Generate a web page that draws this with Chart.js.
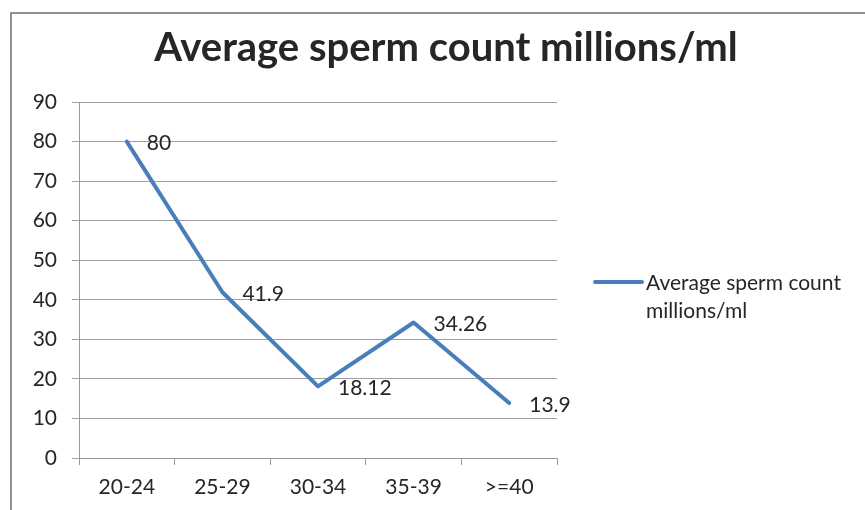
<!DOCTYPE html>
<html>
<head>
<meta charset="utf-8">
<script src="https://cdn.jsdelivr.net/npm/chart.js@4.4.1/dist/chart.umd.min.js"></script>
<style>
  body { margin: 0; background: #fff; }
  #wrap { width: 865px; height: 510px; }
</style>
</head>
<body>
<div id="wrap"><canvas id="canvasChart" width="865" height="510"></canvas></div>
<script>
var titulo = "Average sperm count millions/ml";
var serieNombre = ["Average sperm count", "millions/ml"];
var grupos = ["20-24", "25-29", "30-34", "35-39", ">=40"];
var conteo = [80, 41.9, 18.12, 34.26, 13.9];
var etiquetas = ["80", "41.9", "18.12", "34.26", "13.9"];
var yTicks = [0, 10, 20, 30, 40, 50, 60, 70, 80, 90];

var azul = "#4a7ebb";
var texto = "#262626";
var fuente = "Lato";

// frame, title, legend and data labels drawn like the Excel original
var decoracion = {
  id: "decoracion",
  beforeDraw: function (chart) {
    var ctx = chart.ctx;
    ctx.save();
    ctx.fillStyle = "#fff";
    ctx.fillRect(0, 0, chart.width, chart.height);
    ctx.strokeStyle = "#6e6e6e";
    ctx.lineWidth = 1.5;
    ctx.strokeRect(11, 13, 900, 600);
    ctx.restore();
  },
  afterDatasetsDraw: function (chart) {
    var ctx = chart.ctx;
    ctx.save();
    // title
    ctx.fillStyle = texto;
    ctx.font = "bold 40px " + fuente;
    ctx.textAlign = "center";
    ctx.textBaseline = "alphabetic";
    ctx.fillText(titulo, 446, 61);

    // data labels
    var meta = chart.getDatasetMeta(0);
    ctx.font = "21px " + fuente;
    ctx.textAlign = "left";
    ctx.textBaseline = "middle";
    for (var i = 0; i < meta.data.length; i++) {
      var p = meta.data[i];
      ctx.fillText(etiquetas[i], p.x + 20, p.y + 2);
    }

    // legend
    ctx.strokeStyle = azul;
    ctx.lineWidth = 4;
    ctx.lineCap = "round";
    ctx.beginPath();
    ctx.moveTo(595, 282);
    ctx.lineTo(642, 282);
    ctx.stroke();
    ctx.font = "21px " + fuente;
    ctx.fillText(serieNombre[0], 646, 283);
    ctx.fillText(serieNombre[1], 646, 311);
    ctx.restore();
  }
};

var ctx = document.getElementById("canvasChart").getContext("2d");
window.myLine = new Chart(ctx, {
  type: "line",
  data: {
    labels: grupos,
    datasets: [
      {
        label: serieNombre.join(" "),
        data: conteo,
        borderColor: azul,
        borderWidth: 4,
        pointRadius: 0,
        tension: 0,
        borderJoinStyle: "round",
        borderCapStyle: "round"
      }
    ]
  },
  options: {
    responsive: false,
    animation: false,
    layout: { padding: { left: 0, right: 308, top: 102, bottom: 0 } },
    plugins: {
      legend: { display: false },
      title: { display: false },
      tooltip: { enabled: false }
    },
    scales: {
      x: {
        offset: true,
        grid: {
          offset: true,
          drawOnChartArea: false,
          drawTicks: true,
          tickLength: 7,
          color: "#9a9a9a"
        },
        border: { color: "#9a9a9a", width: 1 },
        ticks: {
          color: texto,
          font: { family: fuente, size: 21 },
          padding: 10,
          maxRotation: 0
        },
        afterFit: function (scale) { scale.height = 52; }
      },
      y: {
        min: 0,
        max: 90,
        afterBuildTicks: function (scale) {
          scale.ticks = yTicks.map(function (v) { return { value: v }; });
        },
        grid: {
          drawTicks: true,
          tickLength: 7,
          color: "#a0a0a0",
          lineWidth: 1
        },
        border: { color: "#9a9a9a", width: 1 },
        ticks: {
          color: texto,
          font: { family: fuente, size: 21 },
          padding: 15
        },
        afterFit: function (scale) { scale.width = 79; }
      }
    }
  },
  plugins: [decoracion]
});
</script>
</body>
</html>
